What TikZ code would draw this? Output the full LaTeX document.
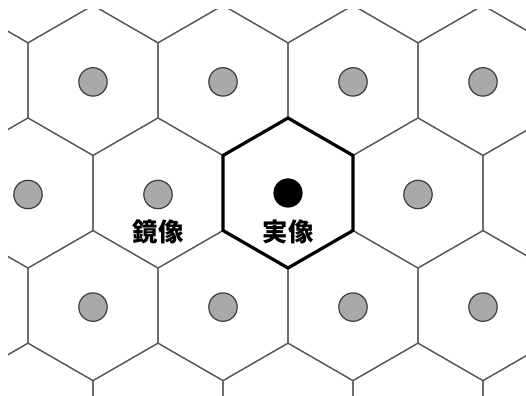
\documentclass[tikz,border=0pt]{standalone}
\usepackage{fontspec}
\newfontfamily\jpfont{Noto Sans CJK JP}
\definecolor{cellLine}{HTML}{5A5A5A}
\definecolor{mirrorGray}{HTML}{A9A9A9}
\definecolor{mirrorEdge}{HTML}{3C3C3C}

\begin{document}
\begin{tikzpicture}[x=0.75pt,y=-0.75pt,
    cell/.style={draw=cellLine,line width=0.9pt},
    realcell/.style={draw=black,line width=2.4pt},
    mirrordot/.style={draw=mirrorEdge,fill=mirrorGray,line width=0.9pt},
    tag/.style={font=\jpfont\bfseries\fontsize{19}{19}\selectfont,inner sep=0pt}]
  \useasboundingbox (0,0) rectangle (526,396);

  \begin{scope}
    \clip (8,9) rectangle (526,396);
    % Hexagonal cells with their mirror images
    \foreach \r in {-2,...,2} {
      \foreach \c in {-1,...,4} {
        \pgfmathsetmacro{\cx}{28+130*\c+65*mod(\r+2,2)}
        \pgfmathsetmacro{\cy}{193+112.6*\r}
        \draw[cell] (\cx,\cy-75) -- (\cx+65,\cy-37.5) -- (\cx+65,\cy+37.5)
          -- (\cx,\cy+75) -- (\cx-65,\cy+37.5) -- (\cx-65,\cy-37.5) -- cycle;
        \draw[mirrordot] (\cx,\cy+1.5) circle (14.2);
      }
    }
  \end{scope}

  % Real image cell
  \draw[realcell,fill=white] (288,118) -- (353,155.5) -- (353,230.5)
    -- (288,268) -- (223,230.5) -- (223,155.5) -- cycle;
  \fill[black] (288,193) circle (14.6);

  \node[tag] (mirror) at (158,232) {鏡像};
  \node[tag] (real) at (288,232) {実像};
\end{tikzpicture}
\end{document}
